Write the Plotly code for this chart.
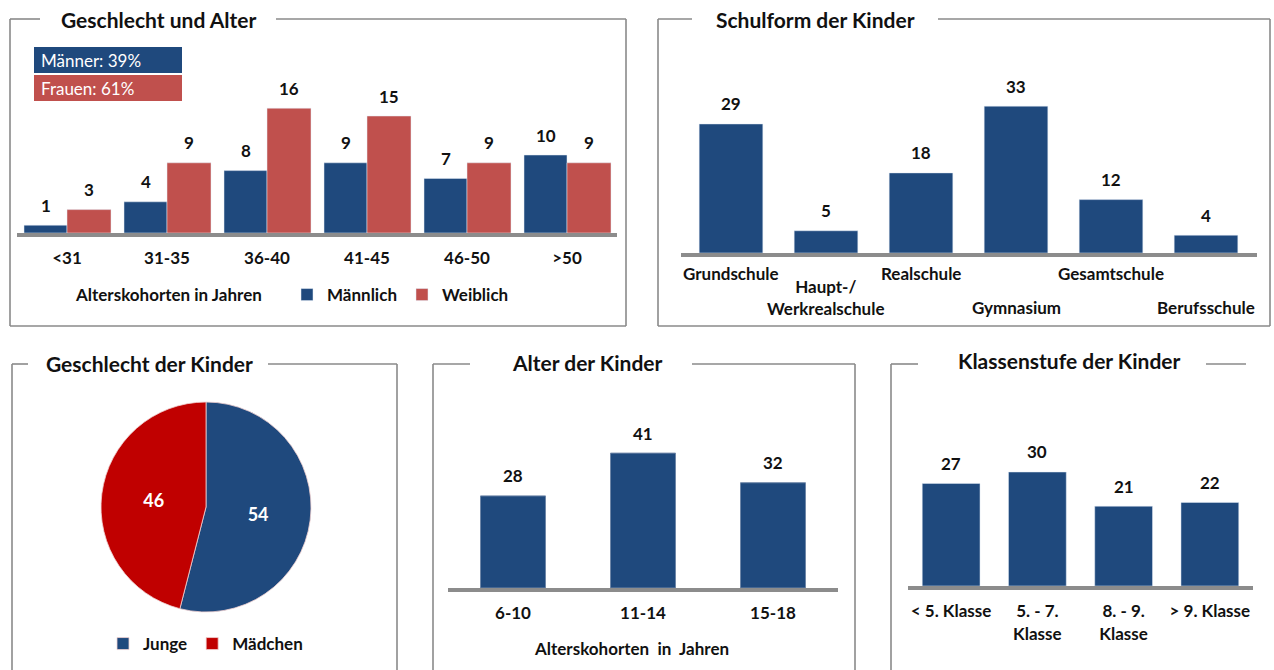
import plotly.graph_objects as go

W, H = 1274, 670
def X(px): return px / W
def Y(py): return 1 - py / H

FONT = "Lato"
BLUE = "#1F497D"
RED = "#C0504D"
PIE_RED = "#C00000"
AXIS_GRAY = "#8C8C8C"
FRAME_GRAY = "#8A8A8A"
TXT = "#111111"

# ---------------- data ----------------
age_groups = ["<31", "31-35", "36-40", "41-45", "46-50", ">50"]
male_counts = [1, 4, 8, 9, 7, 10]
female_counts = [3, 9, 16, 15, 9, 9]

school_types = ["Grundschule", "Haupt-/<br>Werkrealschule", "Realschule", "Gymnasium", "Gesamtschule", "Berufsschule"]
school_counts = [29, 5, 18, 33, 12, 4]

child_gender = ["Junge", "Mädchen"]
child_gender_counts = [54, 46]

child_age_groups = ["6-10", "11-14", "15-18"]
child_age_counts = [28, 41, 32]

grade_levels = ["< 5. Klasse", "5. - 7.<br>Klasse", "8. - 9.<br>Klasse", "> 9. Klasse"]
grade_counts = [27, 30, 21, 22]

fig = go.Figure()

bold = dict(family=FONT, size=17, color=TXT, weight="bold")

# Panel 1: Geschlecht und Alter
fig.add_trace(go.Bar(x=age_groups, y=male_counts, name="Männlich", marker_color=BLUE,
                     offset=-0.43, width=0.43, xaxis="x", yaxis="y", legend="legend",
                     hoverinfo="x+y"))
fig.add_trace(go.Bar(x=age_groups, y=female_counts, name="Weiblich", marker_color=RED,
                     offset=0.0, width=0.44, xaxis="x", yaxis="y", legend="legend",
                     hoverinfo="x+y"))

# Panel 2: Schulform
fig.add_trace(go.Bar(x=school_types, y=school_counts, marker_color=BLUE, width=0.67,
                     xaxis="x2", yaxis="y2", showlegend=False))

# Panel 3: pie
fig.add_trace(go.Pie(labels=child_gender, values=child_gender_counts, sort=False,
                     direction="clockwise", rotation=0,
                     marker=dict(colors=[BLUE, PIE_RED], line=dict(color="#f0d0d0", width=0.8)),
                     textinfo="value", insidetextorientation="horizontal",
                     textfont=dict(family=FONT, size=18, color="white", weight="bold"),
                     domain=dict(x=[X(101), X(311)], y=[Y(612), Y(402)]),
                     legend="legend2"))

# Panel 4: Alter der Kinder
fig.add_trace(go.Bar(x=child_age_groups, y=child_age_counts, marker_color=BLUE, width=0.5,
                     marker_line=dict(color="#6f87a8", width=1),
                     xaxis="x3", yaxis="y3", showlegend=False))

# Panel 5: Klassenstufe
fig.add_trace(go.Bar(x=grade_levels, y=grade_counts, marker_color=BLUE, width=0.67,
                     xaxis="x4", yaxis="y4", showlegend=False))

annotations = []
# value labels
def add_value_labels(cats, vals, xref, yref, shift=0.0):
    for i, v in enumerate(vals):
        annotations.append(dict(x=i + shift, y=v, xref=xref, yref=yref, text=str(v),
                                showarrow=False, xanchor="center", yanchor="middle", yshift=20,
                                font=dict(family=FONT, size=17, color=TXT, weight="bold")))

add_value_labels(age_groups, male_counts, "x", "y", -0.215)
add_value_labels(age_groups, female_counts, "x", "y", 0.22)
add_value_labels(school_types, school_counts, "x2", "y2")
add_value_labels(child_age_groups, child_age_counts, "x3", "y3")
add_value_labels(grade_levels, grade_counts, "x4", "y4")

# school labels (staggered)
school_label_y = [273, 297, 273, 307, 273, 307]
for i, (lab, py) in enumerate(zip(school_types, school_label_y)):
    annotations.append(dict(x=i, y=Y(py), xref="x2", yref="paper", text=lab, showarrow=False,
                            xanchor="center", yanchor="middle", font=bold))

# titles
titles = [("Geschlecht und Alter", 158, 19), ("Schulform der Kinder", 815, 19),
          ("Geschlecht der Kinder", 149, 364), ("Alter der Kinder", 587, 362),
          ("Klassenstufe der Kinder", 1069, 360)]
for t, px, py in titles:
    annotations.append(dict(x=X(px), y=Y(py), xref="paper", yref="paper", text=t, showarrow=False,
                            xanchor="center", yanchor="middle",
                            font=dict(family=FONT, size=21, color=TXT, weight="bold")))

# axis titles
annotations.append(dict(x=X(168), y=Y(294), xref="paper", yref="paper", text="Alterskohorten in Jahren",
                        showarrow=False, xanchor="center", yanchor="middle", font=bold))
annotations.append(dict(x=X(631), y=Y(648), xref="paper", yref="paper",
                        text="Alterskohorten\u00a0\u00a0in\u00a0\u00a0Jahren", showarrow=False,
                        xanchor="center", yanchor="middle", font=bold))

# share box
total = sum(male_counts) + sum(female_counts)
m_pct = round(100 * sum(male_counts) / total)
f_pct = round(100 * sum(female_counts) / total)
shapes = [
    dict(type="rect", xref="paper", yref="paper", x0=X(34), x1=X(182), y0=Y(73), y1=Y(47),
         fillcolor=BLUE, line_width=0, layer="below"),
    dict(type="rect", xref="paper", yref="paper", x0=X(34), x1=X(182), y0=Y(101), y1=Y(75),
         fillcolor=RED, line_width=0, layer="below"),
]
annotations.append(dict(x=X(39), y=Y(60), xref="paper", yref="paper", text=f"Männer: {m_pct}%",
                        showarrow=False, xanchor="left", yanchor="middle",
                        font=dict(family=FONT, size=17, color="white")))
annotations.append(dict(x=X(39), y=Y(88), xref="paper", yref="paper", text=f"Frauen: {f_pct}%",
                        showarrow=False, xanchor="left", yanchor="middle",
                        font=dict(family=FONT, size=17, color="white")))

# frames
def seg(x0, y0, x1, y1):
    shapes.append(dict(type="line", xref="paper", yref="paper", x0=X(x0), y0=Y(y0), x1=X(x1), y1=Y(y1),
                       line=dict(color=FRAME_GRAY, width=1.6)))

# panel 1
seg(10, 19, 40, 19); seg(276, 19, 626, 19); seg(626, 19, 626, 326); seg(10, 326, 626, 326); seg(10, 19, 10, 326)
# panel 2
seg(658, 19, 692, 19); seg(938, 19, 1270, 19); seg(1270, 19, 1270, 326); seg(658, 326, 1270, 326); seg(658, 19, 658, 326)
# panel 3
seg(12, 364, 28, 364); seg(268, 364, 397, 364); seg(12, 364, 12, 670); seg(397, 364, 397, 670)
# panel 4
seg(433, 364, 470, 364); seg(692, 364, 855, 364); seg(433, 364, 433, 670); seg(855, 364, 855, 670)
# panel 5
seg(891, 364, 918, 364); seg(1206, 364, 1246, 364); seg(891, 364, 891, 670)

xcommon = dict(showline=True, linecolor=AXIS_GRAY, linewidth=4, ticks="", showgrid=False,
               zeroline=False, tickfont=bold, ticklabelstandoff=7, fixedrange=True)
ycommon = dict(visible=False, showgrid=False, zeroline=False, fixedrange=True)

fig.update_layout(
    width=W, height=H, margin=dict(l=0, r=0, t=0, b=0),
    paper_bgcolor="white", plot_bgcolor="rgba(0,0,0,0)",
    barmode="overlay", font=dict(family=FONT, color=TXT),
    xaxis=dict(domain=[X(17), X(617)], anchor="y", **xcommon),
    yaxis=dict(domain=[Y(233), Y(55)], anchor="x", range=[0, (233 - 55) / 7.8], **ycommon),
    xaxis2=dict(domain=[X(681), X(1257)], anchor="y2", **{**xcommon, "showticklabels": False}),
    yaxis2=dict(domain=[Y(253), Y(60)], anchor="x2", range=[0, (253 - 60) / 4.45], **ycommon),
    xaxis3=dict(domain=[X(448), X(838)], anchor="y3", **xcommon),
    yaxis3=dict(domain=[Y(588), Y(400)], anchor="x3", range=[0, (588 - 400) / 3.29], **ycommon),
    xaxis4=dict(domain=[X(908), X(1253)], anchor="y4", **xcommon),
    yaxis4=dict(domain=[Y(586), Y(400)], anchor="x4", range=[0, (586 - 400) / 3.8], **ycommon),
    legend=dict(orientation="h", x=X(287), y=Y(295), xanchor="left", yanchor="middle",
                font=bold, bgcolor="rgba(0,0,0,0)", itemclick=False, itemdoubleclick=False),
    legend2=dict(orientation="h", x=X(103), y=Y(644), xanchor="left", yanchor="middle",
                 font=bold, bgcolor="rgba(0,0,0,0)", itemclick=False, itemdoubleclick=False),
    annotations=annotations, shapes=shapes,
)

fig.write_html("out.html", config={"displayModeBar": False},
               post_script="document.body.style.margin='0';document.body.style.padding='0';")
